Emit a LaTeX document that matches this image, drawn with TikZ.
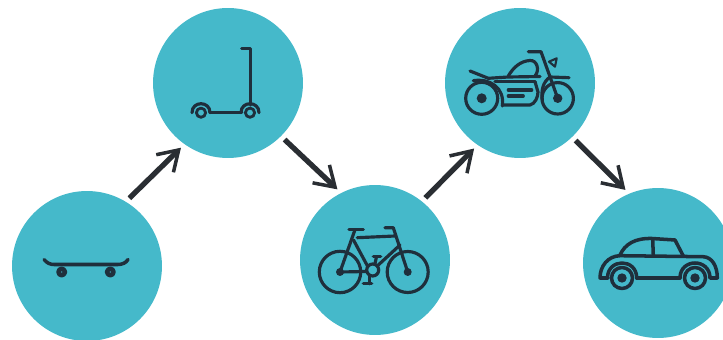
\documentclass[tikz,border=0pt]{standalone}
\usepackage{color}
\definecolor{light-teal}{RGB}{69,185,202}
\definecolor{dark-gray}{RGB}{42,46,51}
\definecolor{dark-blue}{RGB}{31,47,60}
\usetikzlibrary{arrows.meta}

\begin{document}
\begin{tikzpicture}
[
  x=0.02cm,y=-0.02cm,
  station/.style={circle,fill=light-teal,inner sep=0pt,minimum size=3cm,outer sep=0.1cm},
  link/.style={draw=dark-gray,line width=3pt,-{Straight Barb[length=11pt,width=14pt,line width=2pt]}},
  icon/.style={draw=dark-blue,line width=1.8pt,line cap=round,line join=round},
  hub/.style={fill=dark-blue},
]
\useasboundingbox (0,0) rectangle (723,340);
\clip (0,0) rectangle (723,340);

\node[station] (skateboard) at (87,266){};
\node[station] (scooter) at (228,83){};
\node[station] (bicycle) at (375,260){};
\node[station] (motorbike) at (520,83){};
\node[station] (car) at (658,263){};

\draw[link] (skateboard.58) -- (scooter.234);
\draw[link] (scooter.315) -- (bicycle.118);
\draw[link] (bicycle.51) -- (motorbike.235);
\draw[link] (motorbike.314) -- (car.114);

% skateboard
\draw[icon,line width=2pt] (44,259.5) .. controls (47,263) and (50,264.5) .. (54,264.5) -- (118,264.5) .. controls (122,264.5) and (126,263) .. (128,259.5);
\foreach \x in {61.7,110.3}{
    \draw[icon,line width=2.6pt] (\x,272) circle (3.2);
}

% scooter
\draw[icon] (241.7,48.3) -- (250.7,48.3) -- (250.7,105);
\draw[icon] (210,112.3) -- (241.7,112.3);
\foreach \x in {201,250}{
    \draw[icon,line width=1.6pt] (\x,112.7) circle (4.6);
    \draw[icon] (\x-9,112.7) .. controls (\x-9,100.7) and (\x+9,100.7) .. (\x+9,112.7);
}

% bicycle
\draw[icon] (340,272) circle (20.7);
\draw[icon] (407.7,272) circle (20.5);
\fill[hub] (340,272) circle (4);
\fill[hub] (407.7,272) circle (4);
\draw[icon] (349,229.7) -- (363.3,229.7);
\draw[icon] (355,229.7) -- (340,272) -- (366.7,271.5);
\draw[icon] (357.3,237.7) -- (395,236);
\draw[icon] (385,227.7) -- (393.3,227.7) -- (407.7,272);
\draw[icon] (400,245) -- (378.3,265);
\draw[icon] (353.5,240) -- (367.5,266);
\draw[icon] (372.7,270) circle (6);
\draw[icon] (373.3,256.7) -- (380.7,256.7);
\draw[icon] (376.5,256.7) -- (375,263.5);
\draw[icon] (363.3,283.7) -- (371.7,283.7);
\draw[icon] (369.3,276.5) -- (369.3,283.7);

% motorbike
\draw[icon] (481.7,98.3) circle (16);
\draw[icon] (557.7,98.3) circle (15.7);
\fill[hub] (481.7,98.3) circle (5);
\fill[hub] (557.7,98.3) circle (4.7);
\draw[icon] (470,71) -- (488.3,78.3) -- (508.3,77) -- (540,76.5);
\draw[icon] (495,81.7) -- (535,81.7);
\draw[icon] (508.3,76) .. controls (513,68) and (520,61) .. (530,60.5) .. controls (537,60) and (540,70) .. (535,76);
\draw[icon] (528.3,51.7) -- (541,51.7) -- (557.7,98.3);
\draw[icon,line width=1.2pt] (549,61.7) -- (556.7,58.3) -- (555,66.7) -- cycle;
\draw[icon] (542.3,100) .. controls (541,90) and (543,82) .. (550,77) -- (569,77.7);
\draw[icon] (473.3,80.7) .. controls (490,78) and (505,88) .. (502.3,106);
\draw[icon] (508.3,90) -- (531.7,90);
\draw[icon] (508.3,96) -- (523.3,96);
\draw[icon] (503,105) -- (530,105) .. controls (535,104) and (538,97) .. (538,92) -- (535,81.7);

% car
\draw[icon,line width=2pt] (622,278) circle (10.5);
\draw[icon,line width=2pt] (695,278) circle (10.5);
\fill[hub] (622,278) circle (4.7);
\fill[hub] (695,278) circle (4.7);
\draw[icon,line width=2pt] (608,278) -- (600,278) .. controls (600,266) and (608,256) .. (620,255.7) -- (703,256.7) .. controls (712,257) and (717.3,266) .. (717.3,278) -- (710,278);
\draw[icon,line width=2pt] (636.7,278) -- (680,278);
\draw[icon,line width=2pt] (607.5,278) .. controls (607.5,258) and (636.7,258) .. (636.7,278);
\draw[icon,line width=2pt] (680,278) .. controls (680,258) and (710,258) .. (710,278);
\draw[icon,line width=2pt] (620,255) .. controls (625,244) and (635,238) .. (652,238.5) -- (675,240) -- (683.3,256);
\draw[icon,line width=2pt] (652.7,239) -- (653.3,255.7);
\end{tikzpicture}
\end{document}
